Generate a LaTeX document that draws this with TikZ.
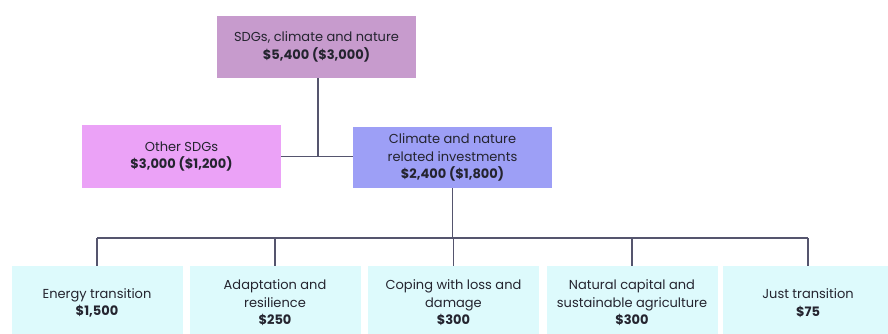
\documentclass[tikz,border=0pt]{standalone}
\usepackage{fontspec}
\setmainfont{Poppins}
\definecolor{topc}{HTML}{C79BCD}
\definecolor{otherc}{HTML}{EBA2F7}
\definecolor{climc}{HTML}{9D9FF6}
\definecolor{botc}{HTML}{DDFAFC}
\definecolor{linec}{HTML}{55556E}
\definecolor{txtc}{HTML}{24242F}
\tikzset{
  box/.style={fill=#1, draw=none, align=center, text=txtc, inner sep=2pt,
    font=\fontsize{13}{17.5}\selectfont},
  topbox/.style={box=topc, minimum width=199pt, minimum height=62pt},
  otherbox/.style={box=otherc, minimum width=199pt, minimum height=63pt},
  climbox/.style={box=climc, minimum width=199pt, minimum height=61pt},
  botbox/.style={box=botc, minimum width=171pt, minimum height=74pt},
  conn/.style={draw=linec, line width=1.6pt}
}
\begin{document}
\begin{tikzpicture}[x=1pt,y=-1pt]
\useasboundingbox[fill=white] (0,0) rectangle (888,333);
\node[topbox] (top) at (316.5,47) {SDGs, climate and nature\\\textbf{\$5,400 (\$3,000)}};
\node[otherbox] (other) at (181.5,156.5) {Other SDGs\\\textbf{\$3,000 (\$1,200)}};
\node[climbox] (clim) at (452.5,157.5) {Climate and nature\\related investments\\\textbf{\$2,400 (\$1,800)}};
\node[botbox] (b1) at (97,303) {Energy transition\\\textbf{\$1,500}};
\node[botbox] (b2) at (275,303) {Adaptation and\\resilience\\\textbf{\$250}};
\node[botbox] (b3) at (453.5,303) {Coping with loss and\\damage\\\textbf{\$300}};
\node[botbox] (b4) at (632,303) {Natural capital and\\sustainable agriculture\\\textbf{\$300}};
\node[botbox] (b5) at (808,303) {Just transition\\\textbf{\$75}};
\coordinate (bus) at (0,238);
\coordinate (mid) at (318,157);
\draw[conn] (other.east) -- (clim.west |- other.east);
\draw[conn] (top.south -| mid) -- (mid);
\draw[conn] (clim.south) -- (clim.south |- bus);
\draw[conn] (b1.north |- bus) -- (b5.north |- bus);
\foreach \b in {b1,b2,b3,b4,b5}{
  \draw[conn] (\b.north) -- (\b.north |- bus);
}
\end{tikzpicture}
\end{document}
